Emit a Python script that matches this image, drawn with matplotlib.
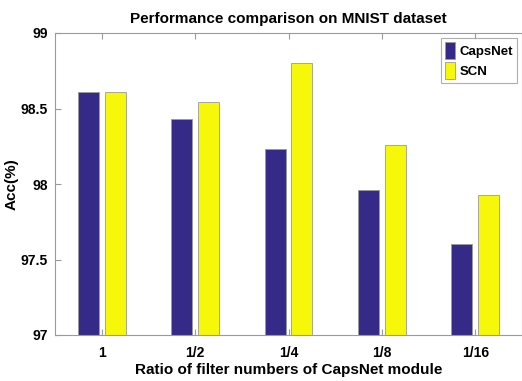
import matplotlib
matplotlib.use("Agg")
import matplotlib.pyplot as plt
import numpy as np

ratios = ["1", "1/2", "1/4", "1/8", "1/16"]
capsnet = [98.61, 98.43, 98.23, 97.96, 97.60]
scn = [98.61, 98.54, 98.80, 98.26, 97.93]

plt.rcParams["font.family"] = ["Liberation Sans Narrow", "Liberation Sans", "DejaVu Sans"]
plt.rcParams["font.weight"] = "bold"

fig = plt.figure(figsize=(5.22, 3.81), dpi=100)
ax = fig.add_axes([55 / 522, 46 / 381, 467 / 522, 302 / 381])

x = np.arange(1, len(ratios) + 1)
w = 0.225
ax.bar(x - 0.144, np.array(capsnet) - 97, w, bottom=97, color="#352a87",
       edgecolor="#9a9a9a", linewidth=0.6, label="CapsNet")
ax.bar(x + 0.144, np.array(scn) - 97, w, bottom=97, color="#f7f70a",
       edgecolor="#9a9a9a", linewidth=0.6, label="SCN")

ax.set_xlim(0.5, 5.5)
ax.set_ylim(97, 99)
ax.set_xticks(x)
ax.set_xticklabels(ratios)
ax.set_yticks([97, 97.5, 98, 98.5, 99])
ax.set_yticklabels(["97", "97.5", "98", "98.5", "99"])
ax.tick_params(direction="in", length=4, color="#9a9a9a", labelsize=10,
               top=True, right=False)
ax.tick_params(axis="y", pad=5)
ax.tick_params(axis="x", pad=8)
for s in ax.spines.values():
    s.set_color("#9a9a9a")
    s.set_linewidth(0.8)

ax.set_title("Performance comparison on MNIST dataset", fontsize=11, fontweight="bold", pad=7)
ax.set_xlabel("Ratio of filter numbers of CapsNet module", fontsize=11, fontweight="bold", labelpad=2)
ax.set_ylabel("Acc(%)", fontsize=11, fontweight="bold")
ax.yaxis.set_label_coords(-0.078, 0.5)

leg = ax.legend(loc="upper right", fontsize=9.5, frameon=True, fancybox=False,
                edgecolor="#9a9a9a", handlelength=0.8, handleheight=1.6,
                handletextpad=0.3, borderpad=0.3, labelspacing=0.2,
                borderaxespad=0.4)
leg.get_frame().set_linewidth(0.8)

fig.savefig("out.png", dpi=100)
